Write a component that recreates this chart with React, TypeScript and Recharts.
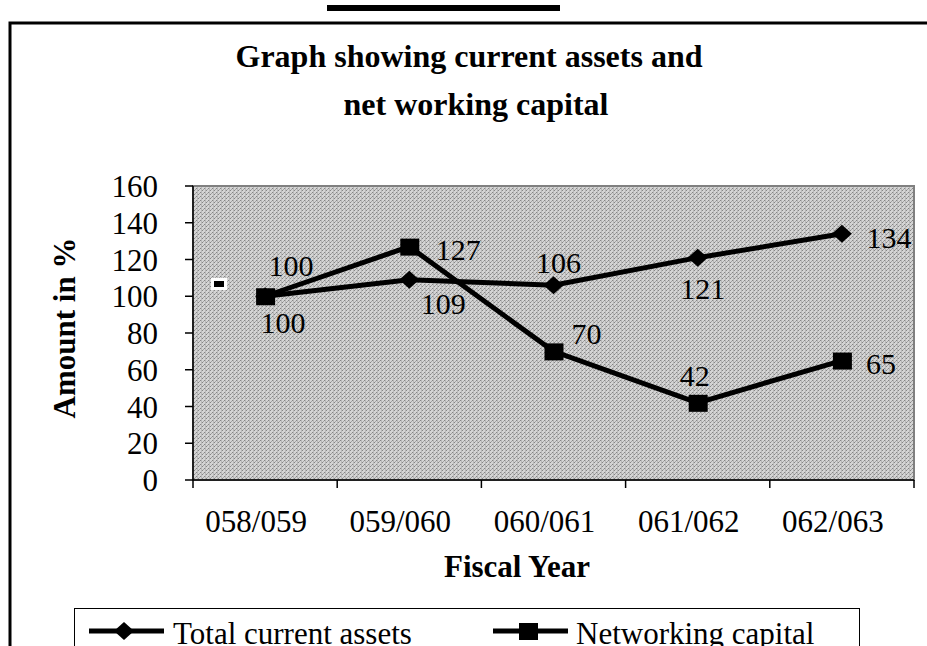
import React from 'react';
import { LineChart, Line, XAxis, YAxis, ReferenceArea, LabelList, Legend } from 'recharts';

const years = ['058/059', '059/060', '060/061', '061/062', '062/063'];
const totalCurrentAssets = [100, 109, 106, 121, 134];
const networkingCapital = [100, 127, 70, 42, 65];
const yTicks = [0, 20, 40, 60, 80, 100, 120, 140, 160];

// where each value label sits relative to its point (dx, dy)
const tcaLabelPos = [[18, 26], [34, 24], [5, -23], [5, 31], [47, 4]];
const nwcLabelPos = [[26, -31], [49, 3], [33, -18], [-3, -27], [39, 3]];

const data = years.map((year, i) => ({
  year,
  tca: totalCurrentAssets[i],
  nwc: networkingCapital[i],
}));

const FONT = '"Liberation Serif", "Times New Roman", serif';

const Diamond = (props: any) => {
  const { cx, cy, index } = props;
  return (
    <path
      key={`d${index}`}
      d={`M${cx - 10},${cy}L${cx},${cy - 9}L${cx + 10},${cy}L${cx},${cy + 9}Z`}
      fill="#000"
    />
  );
};

const Square = (props: any) => {
  const { cx, cy, index } = props;
  return <rect key={`s${index}`} x={cx - 9} y={cy - 8} width={19} height={17} fill="#000" />;
};

const makeLabel = (pos: number[][], values: number[]) => (props: any) => {
  const { x, y, value } = props;
  const idx = props.index ?? values.indexOf(value);
  const [dx, dy] = pos[idx] || [0, -20];
  return (
    <text
      x={x + dx}
      y={y + dy}
      textAnchor="middle"
      dominantBaseline="central"
      fontFamily={FONT}
      fontSize={30}
      fill="#000"
    >
      {value}
    </text>
  );
};

// Excel-style ticks sit between categories, labels a little left of centre
const YearTick = (props: any) => {
  const { x, y, payload, index } = props;
  const half = payload?.offset || 72;
  return (
    <g>
      <line x1={x - half} x2={x - half} y1={y} y2={y + 8} stroke="#000" strokeWidth={1.5} />
      {index === years.length - 1 && (
        <line x1={x + half} x2={x + half} y1={y} y2={y + 8} stroke="#000" strokeWidth={1.5} />
      )}
      <text x={x - 9} y={y + 52} textAnchor="middle" fontFamily={FONT} fontSize={31} fill="#000">
        {payload.value}
      </text>
    </g>
  );
};

const LegendBox = () => (
  <div
    style={{
      width: 786,
      height: 60,
      border: '1.5px solid #000',
      background: '#fff',
      boxSizing: 'border-box',
    }}
  >
    <svg width={786} height={60} style={{ display: 'block' }}>
      <line x1={14} x2={89} y1={22} y2={22} stroke="#000" strokeWidth={5} />
      <path d="M39,22L49,13L59,22L49,31Z" fill="#000" />
      <text x={98} y={35} fontFamily={FONT} fontSize={31} fill="#000">
        Total current assets
      </text>
      <line x1={418} x2={493} y1={22} y2={22} stroke="#000" strokeWidth={5} />
      <rect x={444} y={14} width={19} height={17} fill="#000" />
      <text x={501} y={35} fontFamily={FONT} fontSize={31} fill="#000">
        Networking capital
      </text>
    </svg>
  </div>
);

export default function App() {
  return (
    <div style={{ position: 'fixed', left: 0, top: 0, width: 927, height: 646, background: '#fff', overflow: 'hidden' }}>
      <LineChart
        width={927}
        height={646}
        data={data}
        margin={{ top: 186, right: 13, bottom: 136, left: 133 }}
      >
        <defs>
          <pattern id="dots" width={4} height={4} patternUnits="userSpaceOnUse">
            <rect width={4} height={4} fill="#d4d4d4" />
            <rect x={1} y={0} width={1} height={4} fill="#b8b8b8" />
            <rect x={0} y={0} width={1} height={1} fill="#858585" />
            <rect x={2} y={2} width={1} height={1} fill="#858585" />
            <rect x={3} y={1} width={1} height={1} fill="#a4a4a4" />
          </pattern>
        </defs>
        <ReferenceArea y1={0} y2={160} fill="url(#dots)" fillOpacity={1} stroke="#808080" strokeWidth={2} />
        <XAxis
          dataKey="year"
          scale="band"
          height={30}
          tickSize={0}
          tickMargin={0}
          tickLine={false}
          axisLine={{ stroke: '#000', strokeWidth: 1.5 }}
          tick={<YearTick />}
          interval={0}
        />
        <YAxis
          width={60}
          domain={[0, 160]}
          ticks={yTicks}
          interval={0}
          tickSize={8}
          tickMargin={27}
          axisLine={{ stroke: '#000', strokeWidth: 1.5 }}
          tickLine={{ stroke: '#000', strokeWidth: 1.5 }}
          tick={{ fontFamily: FONT, fontSize: 31, fill: '#000' }}
        />
        <Legend
          verticalAlign="middle"
          layout="horizontal"
          wrapperStyle={{ position: 'absolute', left: 74, top: 608, width: 786, height: 60 }}
          content={<LegendBox />}
        />
        <Line
          dataKey="tca"
          name="Total current assets"
          stroke="#000"
          strokeWidth={5}
          dot={Diamond}
          activeDot={false}
          isAnimationActive={false}
        >
          <LabelList dataKey="tca" content={makeLabel(tcaLabelPos, totalCurrentAssets)} />
        </Line>
        <Line
          dataKey="nwc"
          name="Networking capital"
          stroke="#000"
          strokeWidth={5}
          dot={Square}
          activeDot={false}
          isAnimationActive={false}
        >
          <LabelList dataKey="nwc" content={makeLabel(nwcLabelPos, networkingCapital)} />
        </Line>
      </LineChart>
      <svg
        width={927}
        height={646}
        style={{ position: 'absolute', left: 0, top: 0, pointerEvents: 'none' }}
      >
        <rect x={10} y={23} width={1000} height={700} fill="none" stroke="#000" strokeWidth={3} />
        <rect x={327} y={5} width={233} height={6} fill="#000" />
        <text x={469} y={67} textAnchor="middle" fontFamily={FONT} fontWeight="bold" fontSize={32} fill="#000">
          Graph showing current assets and
        </text>
        <text x={476} y={115} textAnchor="middle" fontFamily={FONT} fontWeight="bold" fontSize={32} fill="#000">
          net working capital
        </text>
        <text
          transform="translate(75,328) rotate(-90)"
          textAnchor="middle"
          fontFamily={FONT}
          fontWeight="bold"
          fontSize={31}
          fill="#000"
        >
          Amount in %
        </text>
        <text x={517} y={577} textAnchor="middle" fontFamily={FONT} fontWeight="bold" fontSize={31} fill="#000">
          Fiscal Year
        </text>
        <rect x={211} y={278} width={16} height={12} fill="#fff" />
        <rect x={214} y={281} width={10} height={6} fill="#000" />
      </svg>
    </div>
  );
}
